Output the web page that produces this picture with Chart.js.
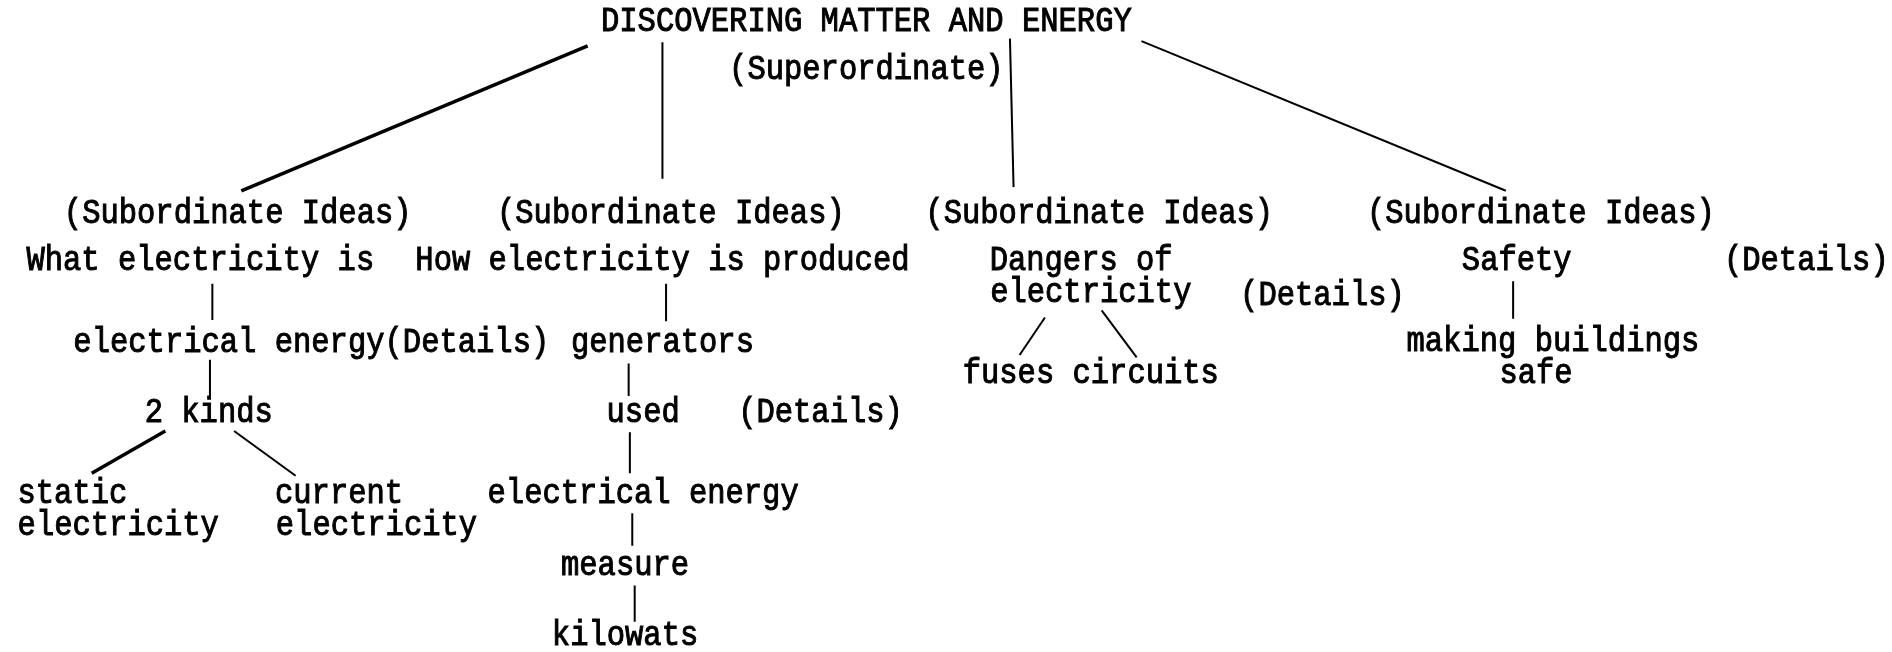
<!DOCTYPE html>
<html><head><meta charset="utf-8">
<script src="https://cdn.jsdelivr.net/npm/chart.js@4/dist/chart.umd.min.js"></script>
<style>html,body{margin:0;padding:0;background:#fff;overflow:hidden}#wrap{width:1892px;height:652px}</style>
</head><body><div id="wrap"><canvas id="c" width="1892" height="652"></canvas></div>
<script>
// Node texts of the concept map and their positions in diagram units (0..1568 x 0..540)
const nodeLabels = [
  "DISCOVERING MATTER AND ENERGY", "(Superordinate)",
  "(Subordinate Ideas)", "(Subordinate Ideas)", "(Subordinate Ideas)", "(Subordinate Ideas)",
  "What electricity is", "How electricity is produced", "Dangers of", "electricity", "Safety", "(Details)",
  "(Details)",
  "electrical energy(Details)", "generators", "making buildings", "safe", "fuses circuits",
  "2 kinds", "used", "(Details)",
  "static", "electricity", "current", "electricity", "electrical energy",
  "measure", "kilowats"
];
const nodeX = [718, 718, 197, 556, 911, 1277, 166, 549, 896, 904, 1257, 1497, 1096,
  258, 549, 1287, 1273, 904, 173, 533, 680, 60, 98, 281, 312, 533, 518, 518];
const nodeY = [18, 58, 177, 177, 177, 177, 216, 216, 216, 243, 216, 216, 245,
  284, 284, 283, 310, 310, 342, 342, 342, 409, 436, 409, 436, 409, 469, 527];

// Connecting lines (start and end points, diagram units)
const edgeX1 = [487, 549, 837, 946, 176, 552, 174, 521, 866, 913, 1254, 137, 194, 522, 524, 526];
const edgeY1 = [38, 35, 32, 34, 235, 235, 298, 301, 263, 257, 233, 357, 357, 358, 425, 485];
const edgeX2 = [200, 549, 840, 1248, 176, 552, 174, 521, 845, 942, 1254, 76, 245, 522, 524, 526];
const edgeY2 = [158, 148, 155, 158, 265, 266, 330, 328, 294, 296, 264, 392, 394, 392, 452, 515];

const thick = new Set([0, 11]);
const datasets = edgeX1.map((x1, i) => ({
  data: [{x: x1, y: edgeY1[i]}, {x: edgeX2[i], y: edgeY2[i]}],
  showLine: true,
  borderColor: '#000',
  borderWidth: thick.has(i) ? 3.5 : 2,
  pointRadius: 0,
  fill: false
}));

const textPlugin = {
  id: 'nodeText',
  afterDatasetsDraw(chart) {
    const ctx = chart.ctx, xs = chart.scales.x, ys = chart.scales.y;
    const vs = 1.12;
    ctx.save();
    ctx.fillStyle = '#000';
    ctx.strokeStyle = '#000';
    ctx.lineWidth = 0.9;
    ctx.font = '30.5px "Liberation Mono", monospace';
    ctx.textAlign = 'center';
    ctx.textBaseline = 'middle';
    nodeLabels.forEach((t, i) => {
      const px = xs.getPixelForValue(nodeX[i]), py = ys.getPixelForValue(nodeY[i]);
      ctx.save();
      ctx.translate(px, py);
      ctx.scale(1, vs);
      ctx.fillText(t, 0, 0);
      ctx.strokeText(t, 0, 0);
      ctx.restore();
    });
    ctx.restore();
  }
};

new Chart(document.getElementById('c'), {
  type: 'scatter',
  data: { datasets },
  options: {
    responsive: false,
    animation: false,
    layout: { padding: 0 },
    plugins: { legend: { display: false }, tooltip: { enabled: false } },
    scales: {
      x: { type: 'linear', min: 0, max: 1568, display: false },
      y: { type: 'linear', min: 0, max: 540, reverse: true, display: false }
    }
  },
  plugins: [textPlugin]
});
</script></body></html>
